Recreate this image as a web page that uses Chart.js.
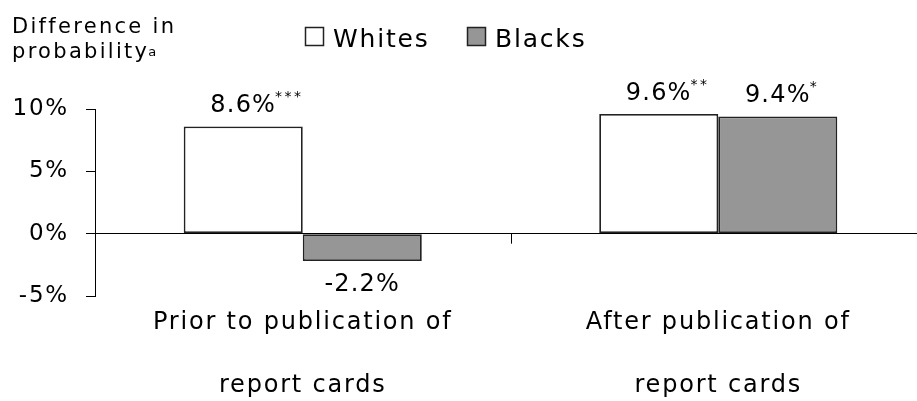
<!DOCTYPE html>
<html>
<head>
<meta charset="utf-8">
<script src="https://cdn.jsdelivr.net/npm/chart.js@4.4.1/dist/chart.umd.min.js"></script>
<style>
    html, body { margin: 0; padding: 0; background: #fff; overflow: hidden; }
    #chart { display: block; }
</style>
</head>
<body>
<canvas id="chart" width="930" height="401"></canvas>
<script>
// chart data
const categories = [['Prior to publication of', 'report cards'], ['After publication of', 'report cards']];
const seriesNames = ['Whites', 'Blacks'];
const whites = [8.6, 9.6];
const blacks = [-2.2, 9.4];
const whiteStars = ['***', '**'];
const blackStars = ['', '*'];
const yTickValues = [-5, 0, 5, 10];

const FONT = '"DejaVu Sans", sans-serif';
const GRAY = '#969696';
const EDGE = '#222';

// letter spacing has to be set again after chart.js resets the canvas
function spacing(ctx, px) {
    if ('letterSpacing' in ctx) ctx.letterSpacing = px + 'px';
}

const spacingPlugin = {
    id: 'spacing',
    beforeUpdate(chart) { spacing(chart.ctx, 1.8); },
    beforeDraw(chart) { spacing(chart.ctx, 1.8); }
};

// separator tick between the two groups, on the zero line
const separatorPlugin = {
    id: 'separator',
    afterDatasetsDraw(chart) {
        const ctx = chart.ctx;
        const xs = chart.scales.x, ys = chart.scales.y;
        const x = Math.round((xs.getPixelForTick(0) + xs.getPixelForTick(1)) / 2) + 0.5;
        const y0 = ys.getPixelForValue(0);
        ctx.save();
        ctx.strokeStyle = '#000';
        ctx.lineWidth = 1;
        ctx.beginPath();
        ctx.moveTo(x, y0);
        ctx.lineTo(x, y0 + 10);
        ctx.stroke();
        ctx.restore();
    }
};

// value labels with significance stars
const valueLabelPlugin = {
    id: 'valueLabels',
    afterDatasetsDraw(chart) {
        const ctx = chart.ctx;
        const stars = [whiteStars, blackStars];
        ctx.save();
        ctx.fillStyle = '#000';
        ctx.textBaseline = 'alphabetic';
        chart.data.datasets.forEach((ds, i) => {
            chart.getDatasetMeta(i).data.forEach((bar, j) => {
                const v = ds.data[j];
                const txt = v.toFixed(1) + '%';
                const base = v >= 0 ? bar.y - 14 : bar.y + 30;
                ctx.font = '24px ' + FONT;
                spacing(ctx, 1.2);
                ctx.textAlign = 'center';
                ctx.fillText(txt, bar.x, base);
                const w = ctx.measureText(txt).width;
                if (stars[i][j]) {
                    ctx.font = '14px ' + FONT;
                    spacing(ctx, 2.5);
                    ctx.textAlign = 'left';
                    ctx.fillText(stars[i][j], bar.x + w / 2 - 1, base - 11);
                }
            });
        });
        ctx.restore();
    }
};

// axis title and legend at the top
const headerPlugin = {
    id: 'header',
    afterDraw(chart) {
        const ctx = chart.ctx;
        ctx.save();
        ctx.fillStyle = '#000';
        ctx.textAlign = 'left';
        ctx.textBaseline = 'alphabetic';
        ctx.font = '21px ' + FONT;
        spacing(ctx, 2.3);
        ctx.fillText('Difference in', 12, 33);
        ctx.fillText('probability', 12, 58);
        const pw = ctx.measureText('probability').width;
        ctx.font = '13px ' + FONT;
        spacing(ctx, 1);
        ctx.fillText('a', 12 + pw - 1, 56);

        const fills = ['#fff', GRAY];
        const boxX = [305, 467];
        ctx.font = '25px ' + FONT;
        spacing(ctx, 1.8);
        seriesNames.forEach((name, i) => {
            ctx.fillStyle = fills[i];
            ctx.fillRect(boxX[i], 27, 19, 19);
            ctx.strokeStyle = EDGE;
            ctx.lineWidth = 1.5;
            ctx.strokeRect(boxX[i] + 0.5, 27.5, 18, 18);
            ctx.fillStyle = '#000';
            ctx.fillText(name, boxX[i] + 28, 47);
        });
        ctx.restore();
    }
};

const ctx = document.getElementById('chart').getContext('2d');
new Chart(ctx, {
    type: 'bar',
    data: {
        labels: categories,
        datasets: [
            {
                label: seriesNames[0],
                data: whites,
                backgroundColor: '#fff',
                borderColor: EDGE,
                borderWidth: 1.8,
                borderSkipped: false,
                barPercentage: 1,
                categoryPercentage: 0.573
            },
            {
                label: seriesNames[1],
                data: blacks,
                backgroundColor: GRAY,
                borderColor: EDGE,
                borderWidth: 1.8,
                borderSkipped: false,
                barPercentage: 1,
                categoryPercentage: 0.573
            }
        ]
    },
    options: {
        responsive: false,
        animation: false,
        devicePixelRatio: 1,
        layout: { padding: { top: 109, right: 4, bottom: 0, left: 0 } },
        plugins: {
            legend: { display: false },
            tooltip: { enabled: false }
        },
        scales: {
            x: {
                grid: { display: false },
                border: { display: false },
                ticks: {
                    color: '#000',
                    padding: -13,
                    maxRotation: 0,
                    autoSkip: false,
                    font: { family: FONT, size: 24, lineHeight: '63px' }
                },
                afterFit(scale) { scale.height = 105; }
            },
            y: {
                min: -5,
                max: 10,
                afterBuildTicks(scale) {
                    scale.ticks = yTickValues.map(v => ({ value: v }));
                },
                grid: {
                    drawOnChartArea: true,
                    color: c => (c.tick && c.tick.value === 0 ? '#000' : 'rgba(0,0,0,0)'),
                    tickColor: '#000',
                    tickLength: 9,
                    lineWidth: 1
                },
                border: { display: true, color: '#000', width: 1 },
                ticks: {
                    color: '#000',
                    padding: 17,
                    font: { family: FONT, size: 23 },
                    callback: v => v + '%'
                },
                afterFit(scale) { scale.width = 95; }
            }
        }
    },
    plugins: [spacingPlugin, separatorPlugin, valueLabelPlugin, headerPlugin]
});
</script>
</body>
</html>
